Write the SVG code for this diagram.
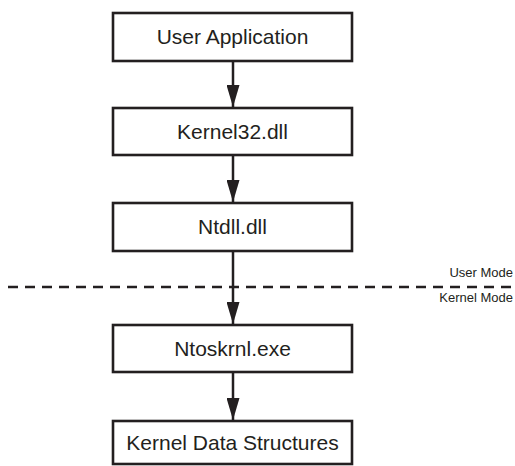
<svg xmlns="http://www.w3.org/2000/svg" width="515" height="466" viewBox="0 0 515 466">
<style>
.box{fill:#fff;stroke:#231f20;stroke-width:2.6}
.lbl{font-family:"Liberation Sans",Arial,sans-serif;font-size:21px;fill:#231f20;text-anchor:middle}
.mode{font-family:"Liberation Sans",Arial,sans-serif;font-size:13px;fill:#231f20;text-anchor:end}
.conn{stroke:#231f20;stroke-width:2.5;fill:none}
</style>
<defs>
<marker id="ah" markerUnits="userSpaceOnUse" markerWidth="22" markerHeight="13" refX="22" refY="6.5" orient="auto">
<path d="M0,0 L22,6.5 L0,13 Z" fill="#231f20"/>
</marker>
</defs>
<rect width="515" height="466" fill="#fff"/>
<g id="divider">
<line x1="8" y1="287" x2="515" y2="287" stroke="#231f20" stroke-width="2.5" stroke-dasharray="10,7"/>
<text class="mode" x="513" y="277">User Mode</text>
<text class="mode" x="513" y="302">Kernel Mode</text>
</g>
<g id="connectors">
<line class="conn" x1="233" y1="61" x2="233" y2="107" marker-end="url(#ah)"/>
<line class="conn" x1="233" y1="155" x2="233" y2="202" marker-end="url(#ah)"/>
<line class="conn" x1="233" y1="251" x2="233" y2="324" marker-end="url(#ah)"/>
<line class="conn" x1="233" y1="372" x2="233" y2="420" marker-end="url(#ah)"/>
</g>
<g id="user-app"><rect class="box" x="113" y="13" width="239" height="48"/><text class="lbl" x="232.5" y="44">User Application</text></g>
<g id="kernel32"><rect class="box" x="113" y="108" width="239" height="47"/><text class="lbl" x="232.5" y="139">Kernel32.dll</text></g>
<g id="ntdll"><rect class="box" x="113" y="203" width="239" height="48"/><text class="lbl" x="232.5" y="234">Ntdll.dll</text></g>
<g id="ntoskrnl"><rect class="box" x="113" y="325" width="239" height="47"/><text class="lbl" x="232.5" y="356">Ntoskrnl.exe</text></g>
<g id="kernel-data"><rect class="box" x="113" y="421" width="239" height="43"/><text class="lbl" x="232.5" y="450">Kernel Data Structures</text></g>
</svg>
